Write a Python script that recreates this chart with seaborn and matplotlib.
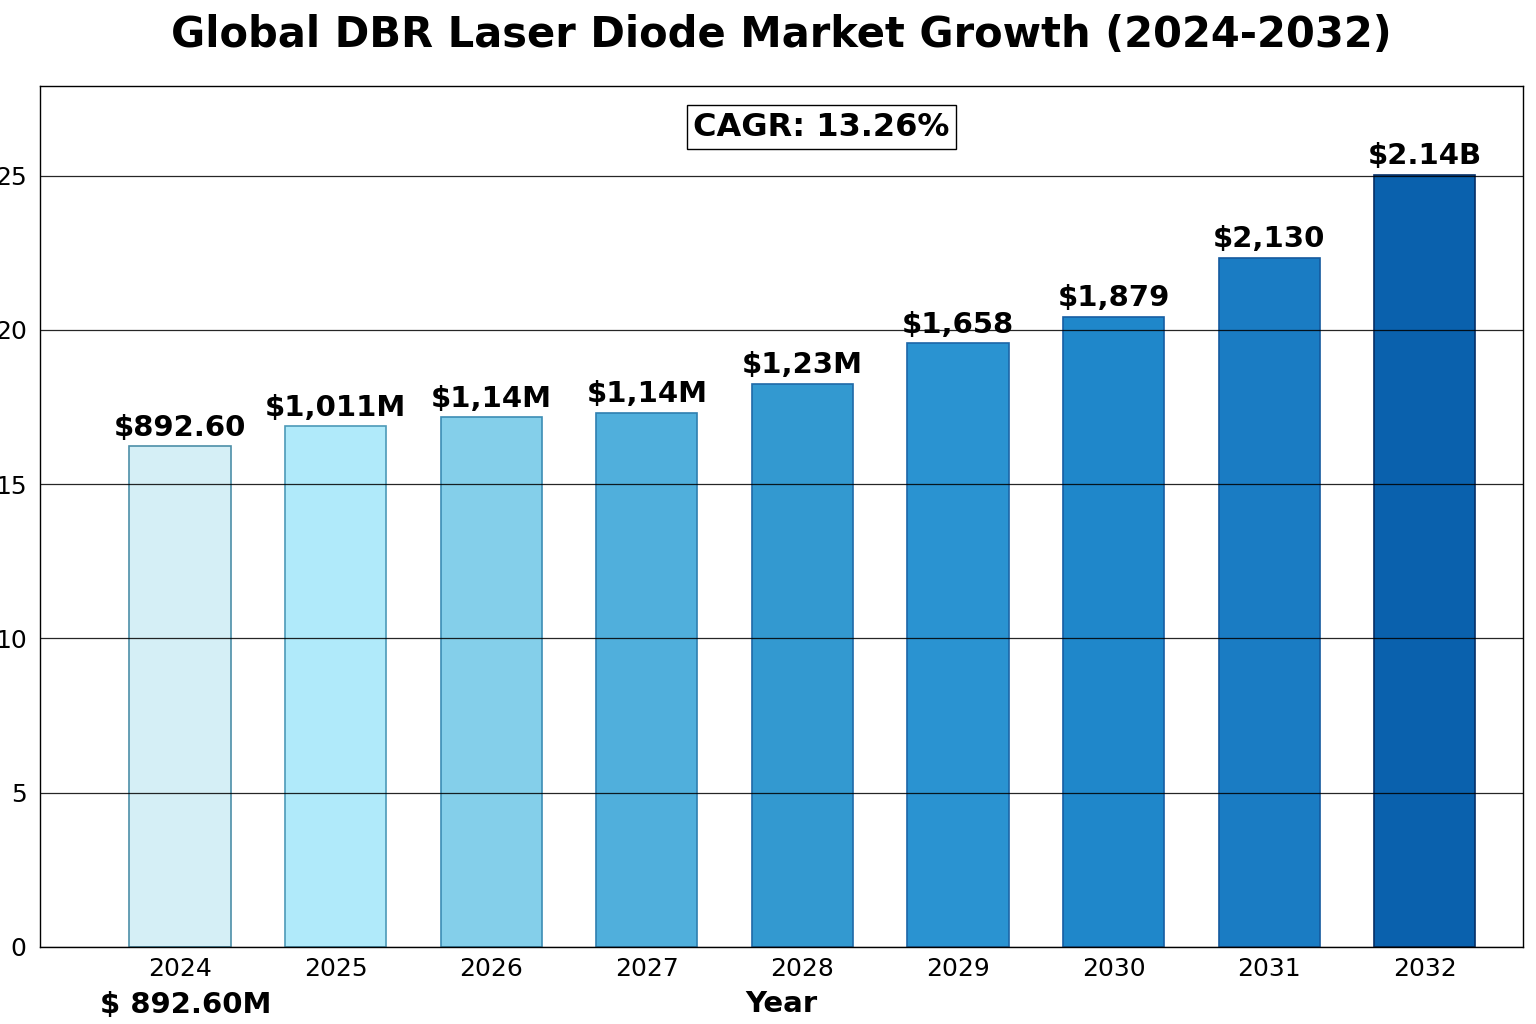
import matplotlib
matplotlib.use("Agg")
import matplotlib.pyplot as plt
import seaborn as sns
import pandas as pd

# data
years = ["2024", "2025", "2026", "2027", "2028", "2029", "2030", "2031", "2032"]
values = [16.22, 16.87, 17.16, 17.32, 18.26, 19.56, 20.43, 22.34, 25.03]
bar_labels = ["$892.60", "$1,011M", "$1,14M", "$1,14M", "$1,23M",
              "$1,658", "$1,879", "$2,130", "$2.14B"]
bar_colors = ["#d5eff6", "#b0eafa", "#84cfea", "#50afdc", "#3399d0",
              "#2a93d1", "#1f87ca", "#1a7cc3", "#0a61ad"]
edge_colors = ["#4d8fa8", "#4d9ab8", "#3d8db5", "#2f7fb0", "#1f6aa8",
               "#1c66a8", "#165ea3", "#145a9e", "#062f66"]
cagr_text = "CAGR: 13.26%"
base_text = "$ 892.60M"

df = pd.DataFrame({"Year": years, "Value": values})

sns.set_style("white")
plt.rcParams["font.family"] = ["DejaVu Sans"]
plt.rcParams.update({"text.color": "black", "axes.labelcolor": "black",
                     "xtick.color": "black", "ytick.color": "black"})

fig = plt.figure(figsize=(15.36, 10.24), dpi=100)
ax = fig.add_axes([0.026, 0.0752, 0.9655, 0.8408])

sns.barplot(data=df, x="Year", y="Value", hue="Year", palette=bar_colors,
            legend=False, width=0.65, ax=ax, saturation=1)

for patch, ec in zip(ax.patches, edge_colors):
    patch.set_edgecolor(ec)
    patch.set_linewidth(1.2)

# value labels above bars
for i, (v, lab) in enumerate(zip(values, bar_labels)):
    ax.annotate(lab, xy=(i, v), xytext=(0, 3), textcoords="offset points",
                ha="center", va="bottom", fontsize=21, fontweight="bold")

ax.set_xlim(-0.9, 8.63)
ax.set_ylim(0, 27.9)
ax.set_yticks([0, 5, 10, 15, 20, 25])
ax.yaxis.grid(True, color="black", linewidth=0.9, alpha=0.85)
ax.set_axisbelow(False)

for s in ax.spines.values():
    s.set_visible(True)
    s.set_color("black")
    s.set_linewidth(1.0)

ax.tick_params(axis="both", labelsize=18, direction="out", length=6, width=0.8)
ax.tick_params(axis="x", length=4)

ax.set_ylabel("")
ax.set_xlabel("Year", fontsize=21, fontweight="bold", labelpad=6)
ax.set_title("Global DBR Laser Diode Market Growth (2024-2032)",
             fontsize=30, fontweight="bold", pad=28)

ax.text(0.527, 0.952, cagr_text, transform=ax.transAxes, ha="center", va="center",
        fontsize=23, fontweight="bold",
        bbox=dict(boxstyle="square,pad=0.2", facecolor="white", edgecolor="black", linewidth=1))

ax.annotate(base_text, xy=(0.04, -0.067), xycoords=("data", "axes fraction"),
            ha="center", va="center", fontsize=21, fontweight="bold", annotation_clip=False)

fig.savefig("out.png", dpi=100)
